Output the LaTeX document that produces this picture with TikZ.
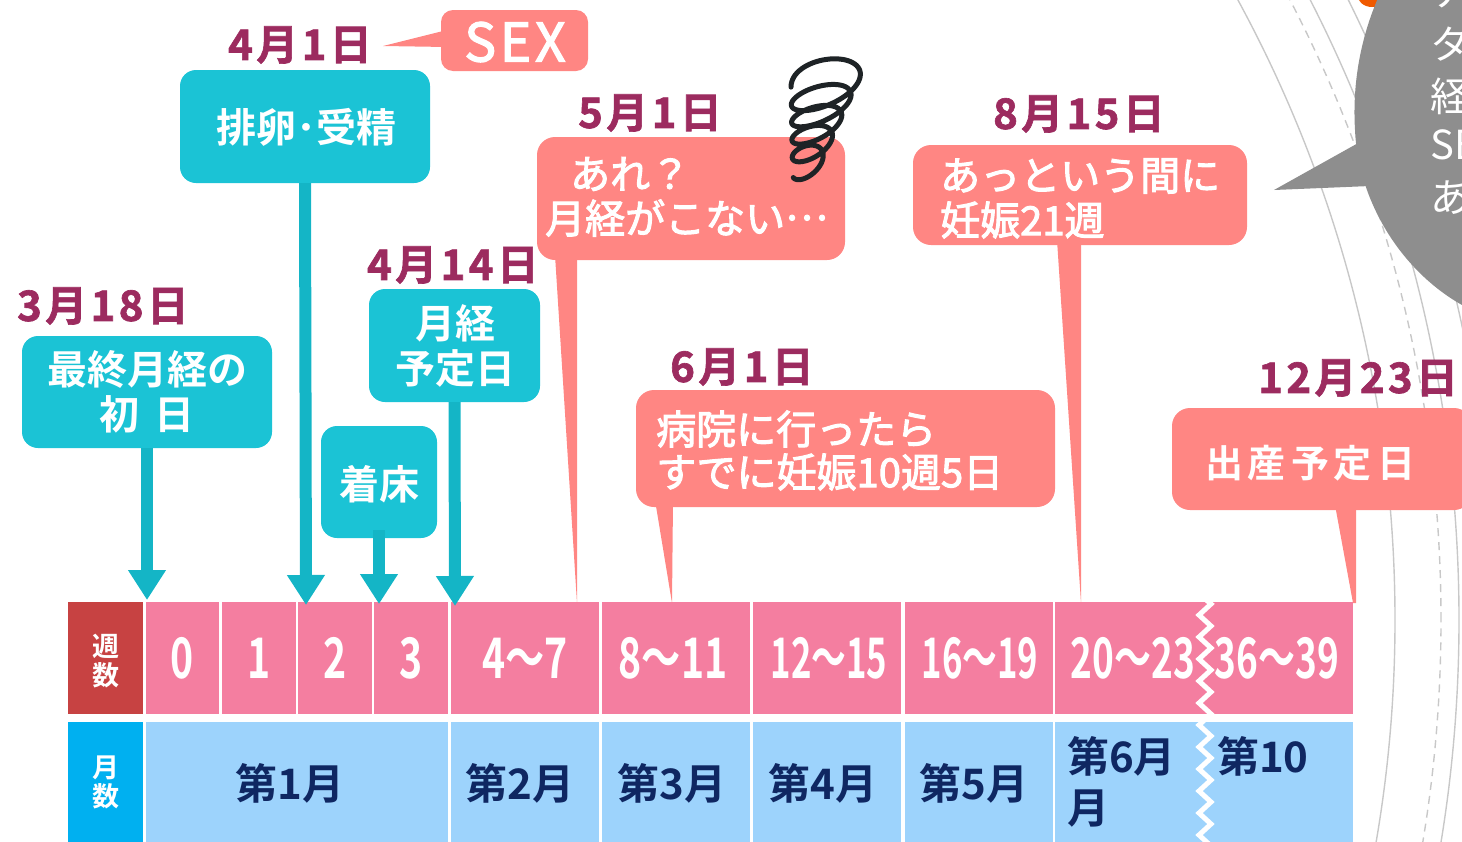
\documentclass[tikz,border=0pt]{standalone}
\usepackage{fontspec}
\usetikzlibrary{arrows.meta}
\newfontfamily\jp{Noto Sans CJK JP}[BoldFont={Noto Sans CJK JP Bold}]
\newfontfamily\jpmed{Noto Sans CJK JP}[FakeBold=2.5]
\newfontfamily\lblfont{Noto Sans CJK JP Bold}[LetterSpace=8, FakeBold=1.5]
\definecolor{datecol}{HTML}{9C2B5F}
\definecolor{tealfill}{HTML}{1BC3D5}
\definecolor{tealarrow}{HTML}{14B5C6}
\definecolor{salmon}{HTML}{FF8683}
\definecolor{weekpink}{HTML}{F47EA0}
\definecolor{weekhead}{HTML}{C74242}
\definecolor{monthblue}{HTML}{9DD3FC}
\definecolor{monthhead}{HTML}{00B0F0}
\definecolor{navy}{HTML}{0F2762}
\definecolor{bubblegray}{HTML}{8E8E8E}
\definecolor{orbitgray}{HTML}{C8C8C8}
\definecolor{ink}{HTML}{1E2326}
\definecolor{blobor}{HTML}{F05A00}
\begin{document}
\begin{tikzpicture}[x=1pt,y=-1pt,
  datelbl/.style={text=datecol, font=\lblfont\fontsize{42}{42}\selectfont, inner sep=0pt},
  tealbox/.style={fill=tealfill, rounded corners=16pt, inner sep=0pt},
  tealtxt/.style={text=white, font=\jp\bfseries\fontsize{40}{45}\selectfont, align=center, inner sep=0pt},
  pinkbox/.style={fill=salmon, rounded corners=18pt, inner sep=0pt},
  pinktxt/.style={text=white, font=\jpmed\fontsize{40}{44}\selectfont, align=left, inner sep=0pt},
  pointer/.style={-{Triangle[width=36pt,length=30pt]}, line width=12pt, draw=tealarrow},
  wkcell/.style={fill=weekpink, minimum height=112pt, inner sep=0pt},
  wktxt/.style={text=white, font=\jp\bfseries\fontsize{56}{56}\selectfont, inner sep=0pt},
  mocell/.style={fill=monthblue, minimum height=130pt, inner sep=0pt},
  motxt/.style={text=navy, font=\jp\bfseries\fontsize{42}{42}\selectfont, inner sep=0pt},
  headtxt/.style={text=white, font=\jp\bfseries\fontsize{27}{29}\selectfont, align=center, inner sep=0pt},
  orbit/.style={draw=orbitgray, line width=1.4pt},
  bubtxt/.style={text=white, font=\jp\fontsize{40}{40}\selectfont, inner sep=0pt, anchor=west}]
\useasboundingbox (0,0) rectangle (1462,841);
\clip (0,0) rectangle (1462,841);

% orbit lines on the right
\coordinate (orbitc) at (95,620);
\draw[orbit] (orbitc) circle[radius=1300pt];
\draw[orbit, dash pattern=on 8pt off 6pt] (orbitc) circle[radius=1346pt];
\draw[orbit] (orbitc) circle[radius=1364pt];
\draw[orbit] (orbitc) circle[radius=1398pt];

% speech bubble at the right edge
\fill[blobor] (1372,-6) ellipse[x radius=15pt, y radius=13pt];
\fill[bubblegray] (1378,-2) .. controls (1362,35) and (1352,80) .. (1355,130)
  .. controls (1358,200) and (1400,270) .. (1462,305) -- (1480,305) -- (1480,-2) -- cycle;
\coordinate (bubtip) at (1274,190);
\fill[bubblegray] (bubtip) -- (1360,142) -- (1370,186) -- cycle;
\node[bubtxt] (bt0) at (1430,-8) {ナ};
\node[bubtxt] (bt1) at (1430,44) {タ};
\node[bubtxt] (bt2) at (1430,96) {経};
\node[bubtxt] (bt3) at (1430,145) {SEX};
\node[bubtxt] (bt4) at (1430,198) {あ};

% week row
\node[fill=weekhead, minimum width=75pt, minimum height=112pt] (wh) at (105.5,658) {};
\node[headtxt] (whl) at (105.5,661) {週\\数};
\node[wkcell, minimum width=73pt] (w0) at (182.5,658) {};
\node[wkcell, minimum width=74pt] (w1) at (259,658) {};
\node[wkcell, minimum width=74pt] (w2) at (335,658) {};
\node[wkcell, minimum width=74pt] (w3) at (411,658) {};
\node[wkcell, minimum width=148pt] (w4) at (525,658) {};
\node[wkcell, minimum width=148pt] (w8) at (676,658) {};
\node[wkcell, minimum width=148pt] (w12) at (827,658) {};
\node[wkcell, minimum width=148pt] (w16) at (979,658) {};
\node[wkcell, minimum width=298pt] (w20) at (1204,658) {};
\node[wktxt] (t0) at (182.5,658) {\scalebox{0.7}[1]{0}};
\node[wktxt] (t1) at (259,658) {\scalebox{0.7}[1]{1}};
\node[wktxt] (t2) at (335,658) {\scalebox{0.7}[1]{2}};
\node[wktxt] (t3) at (411,658) {\scalebox{0.7}[1]{3}};
\node[wktxt] (t4) at (525,658) {\scalebox{0.7}[1]{4～7}};
\node[wktxt] (t8) at (673,658) {\scalebox{0.7}[1]{8～11}};
\node[wktxt] (t12) at (829,658) {\scalebox{0.62}[1]{12～15}};
\node[wktxt] (t16) at (980,658) {\scalebox{0.62}[1]{16～19}};
\node[wktxt] (t20) at (1133,658) {\scalebox{0.66}[1]{20～23}};
\node[wktxt] (t36) at (1277,658) {\scalebox{0.66}[1]{36～39}};

% month row
\node[fill=monthhead, minimum width=75pt, minimum height=130pt] (mh) at (105.5,787) {};
\node[headtxt] (mhl) at (105.5,782) {月\\数};
\node[mocell, minimum width=302pt] (m1) at (297,787) {};
\node[mocell, minimum width=148pt] (m2) at (525,787) {};
\node[mocell, minimum width=148pt] (m3) at (676,787) {};
\node[mocell, minimum width=148pt] (m4) at (827,787) {};
\node[mocell, minimum width=148pt] (m5) at (979,787) {};
\node[mocell, minimum width=298pt] (m6) at (1204,787) {};
\node[motxt] (mt1) at (290,783) {第1月};
\node[motxt] (mt2) at (520,783) {第2月};
\node[motxt] (mt3) at (672,783) {第3月};
\node[motxt] (mt4) at (823,783) {第4月};
\node[motxt] (mt5) at (974,783) {第5月};
\node[motxt, anchor=west] (mt6a) at (1067,756) {第6月};
\node[motxt, anchor=west] (mt6b) at (1067,809) {月};
\node[motxt, anchor=west] (mt10) at (1217,756) {第10};

% break mark between 23 and 36 weeks
\draw[white, line width=5pt, line join=miter]
  (1204,598) \foreach \k in {0,...,11} { -- (1211,{604+22*\k}) -- (1199,{615+22*\k}) } -- (1205,870);

% teal event boxes
\node[datelbl] (d318) at (103,306) {3月18日};
\node[tealbox, minimum width=250pt, minimum height=112pt] (lmp) at (147,392) {};
\node[tealtxt] (lmpt) at (147,392) {最終月経の\\初\,\ 日};
\coordinate (lmptip) at (147,600);
\draw[pointer] (lmp.south) -- (lmptip);

\node[datelbl] (d401) at (300,45) {4月1日};
\node[tealbox, minimum width=250pt, minimum height=113pt] (ovu) at (305,126.5) {};
\node[tealtxt] (ovut) at (306,127) {排卵･受精};
\coordinate (ovutip) at (306,605);
\draw[pointer] (ovu.south) -- (ovutip);

\node[tealbox, minimum width=116pt, minimum height=112pt] (imp) at (379,482) {};
\node[tealtxt] (impt) at (379,484) {着床};
\coordinate (imptip) at (379,604);
\draw[pointer] (379,530) -- (imptip);

\node[datelbl] (d414) at (453,265) {4月14日};
\node[tealbox, minimum width=171pt, minimum height=113pt] (due) at (454.5,345.5) {};
\node[tealtxt] (duet) at (455,346) {月経\\予定日};
\coordinate (duetip) at (455,606);
\draw[pointer] (due.south) -- (duetip);

% SEX callout
\node[pinkbox, rounded corners=12pt, minimum width=147pt, minimum height=61pt] (sex) at (514.5,40.5) {};
\node[text=white, font=\jpmed\fontsize{53}{53}\selectfont, inner sep=0pt] (sext) at (515,42) {S\kern4pt E\kern4pt X};
\coordinate (sextip) at (383,46);
\fill[salmon] (sextip) -- (447,30) -- (447,47) -- cycle;

% salmon comment callouts
\node[datelbl] (d501) at (650,113) {5月1日};
\node[pinkbox, minimum width=308pt, minimum height=123pt] (c501) at (691,198.5) {};
\coordinate (tip501) at (577,603);
\fill[salmon] (555,255) -- (577,255) -- (tip501) -- cycle;
\node[pinktxt, anchor=west] (c501a) at (570,174) {あれ？};
\node[pinktxt, anchor=west] (c501b) at (545,218) {月経がこない\raisebox{0.33em}{…}};

\node[datelbl] (d601) at (742,367) {6月1日};
\node[pinkbox, minimum width=419pt, minimum height=117pt] (c601) at (845.5,448.5) {};
\coordinate (tip601) at (672,603);
\fill[salmon] (655,500) -- (673,500) -- (tip601) -- cycle;
\node[pinktxt, anchor=west] (c601a) at (656,429) {病院に行ったら};
\node[pinktxt, anchor=west] (c601b) at (656,472) {すでに妊娠10週5日};

\node[datelbl] (d815) at (1079,114) {8月15日};
\node[pinkbox, minimum width=334pt, minimum height=100pt] (c815) at (1080,195) {};
\coordinate (tip815) at (1081,603);
\fill[salmon] (1057,240) -- (1081,240) -- (tip815) -- cycle;
\node[pinktxt, anchor=west] (c815a) at (940,176) {あっという間に};
\node[pinktxt, anchor=west] (c815b) at (940,220) {妊娠21週};

\node[datelbl, anchor=west] (d1223) at (1258,378) {12月23日};
\node[pinkbox, minimum width=300pt, minimum height=102pt] (c1223) at (1322,459) {};
\coordinate (tip1223) at (1353,603);
\fill[salmon] (1335,505) -- (1356,505) -- (1356,603) -- (tip1223) -- cycle;
\node[text=white, font=\jp\bfseries\fontsize{38}{38}\selectfont, inner sep=0pt] (c1223t) at (1310,463) {出\kern5pt 産\kern5pt 予\kern5pt 定\kern5pt 日};

% scribble above the first comment
\draw[ink, line width=5pt, line cap=round, line join=round]
  plot[domain=0:1780, samples=320, smooth, variable=\t]
  ({828 - \t/360*4.5 + (37 - \t/360*4.8)*cos(180+\t)},
   {76 + \t/360*19 + (10 + 20/(1+\t/360*3))*sin(180+\t) - 0.3*(37-\t/360*4.8)*cos(180+\t)});
\end{tikzpicture}
\end{document}
